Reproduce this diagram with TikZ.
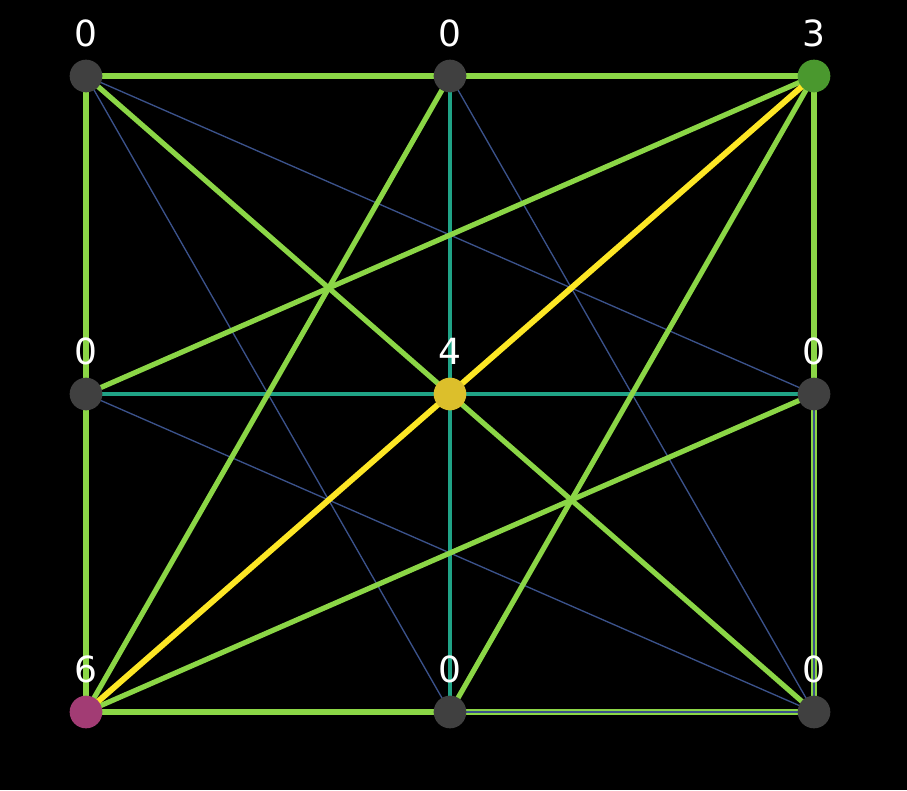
\documentclass[tikz,border=0pt]{standalone}
\usepackage{fontspec}
\setmainfont{DejaVu Sans}
\definecolor{bgc}{HTML}{000000}
\definecolor{grn}{HTML}{8BD646}
\definecolor{ylw}{HTML}{FDE725}
\definecolor{tea}{HTML}{20A386}
\definecolor{blu}{HTML}{3B528B}
\definecolor{ngray}{HTML}{404040}
\definecolor{ngreen}{HTML}{4A982E}
\definecolor{nyel}{HTML}{DCBF2B}
\definecolor{nmag}{HTML}{A23C74}
\tikzset{
  vtx/.style={circle,inner sep=0pt,minimum size=24.5pt,fill=#1},
  lbl/.style={text=white,font=\fontsize{27}{27}\selectfont,inner sep=0pt},
  gedge/.style={draw=grn,line width=3.9pt},
  yedge/.style={draw=ylw,line width=4.4pt},
  tedge/.style={draw=tea,line width=2.7pt},
  bedge/.style={draw=blu,line width=1pt},
  dedgeA/.style={draw=grn,line width=3.9pt},
  dedgeB/.style={draw=blu,line width=1.7pt},
}
\begin{document}
\begin{tikzpicture}[x=0.75pt,y=-0.75pt]
\fill[bgc] (0,0) rectangle (907,790);
\useasboundingbox (0,0) rectangle (907,790);
\coordinate (a) at (86,76);
\coordinate (b) at (450,76);
\coordinate (c) at (814,76);
\coordinate (d) at (86,394);
\coordinate (e) at (450,394);
\coordinate (f) at (814,394);
\coordinate (g) at (86,712);
\coordinate (h) at (450,712);
\coordinate (i) at (814,712);
% thin blue
\draw[bedge] (a) -- (f);
\draw[bedge] (a) -- (h);
\draw[bedge] (b) -- (i);
\draw[bedge] (d) -- (i);
% teal
\draw[tedge] (b) -- (e);
\draw[tedge] (e) -- (h);
\draw[tedge] (d) -- (e);
\draw[tedge] (e) -- (f);
% green
\draw[gedge] (a) -- (b);
\draw[gedge] (b) -- (c);
\draw[gedge] (a) -- (d);
\draw[gedge] (d) -- (g);
\draw[gedge] (a) -- (e);
\draw[gedge] (e) -- (i);
\draw[gedge] (c) -- (f);
\draw[gedge] (c) -- (d);
\draw[gedge] (b) -- (g);
\draw[gedge] (c) -- (h);
\draw[gedge] (f) -- (g);
\draw[gedge] (g) -- (h);
% yellow
\draw[yedge] (c) -- (e);
\draw[yedge] (e) -- (g);
% double
\draw[dedgeA] (f) -- (i);
\draw[dedgeB] (f) -- (i);
\draw[dedgeA] (h) -- (i);
\draw[dedgeB] (h) -- (i);
% nodes
\node[vtx=ngray] (na) at (a) {};
\node[vtx=ngray] (nb) at (b) {};
\node[vtx=ngreen] (nc) at (c) {};
\node[vtx=ngray] (nd) at (d) {};
\node[vtx=nyel] (ne) at (e) {};
\node[vtx=ngray] (nf) at (f) {};
\node[vtx=nmag] (ng) at (g) {};
\node[vtx=ngray] (nh) at (h) {};
\node[vtx=ngray] (ni) at (i) {};
% labels
\node[lbl] (la) at (86,33) {0};
\node[lbl] (lb) at (450,33) {0};
\node[lbl] (lc) at (814,33) {3};
\node[lbl] (ld) at (86,351) {0};
\node[lbl] (le) at (450,351) {4};
\node[lbl] (lf) at (814,351) {0};
\node[lbl] (lg) at (86,669) {6};
\node[lbl] (lh) at (450,669) {0};
\node[lbl] (li) at (814,669) {0};
\end{tikzpicture}
\end{document}
